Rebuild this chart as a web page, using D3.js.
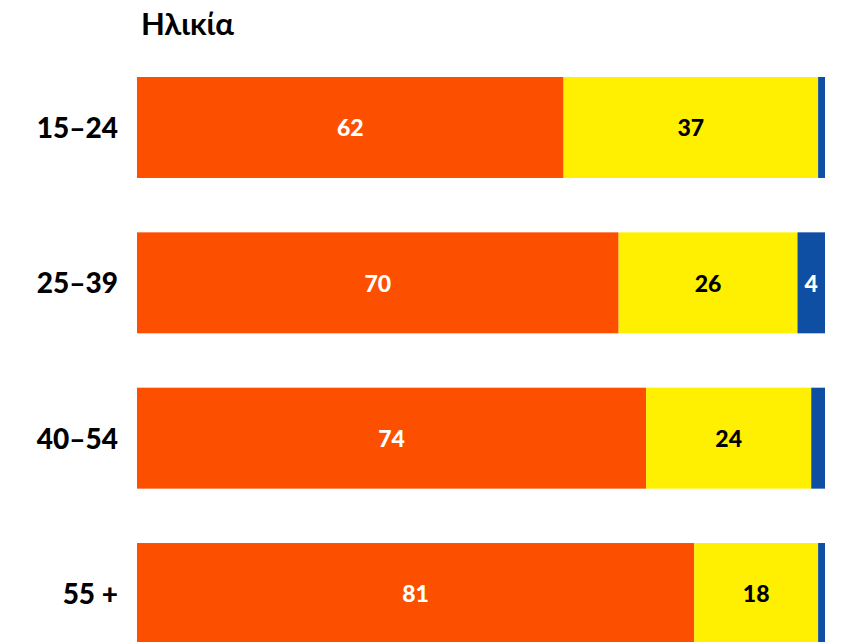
<!DOCTYPE html>
<html><head><meta charset="utf-8">
<script src="https://cdn.jsdelivr.net/npm/d3@7"></script>
<style>body{margin:0;background:#fff}svg{display:block}</style>
</head><body>
<script>
const title = "Ηλικία";
const categories = ["15–24", "25–39", "40–54", "55 +"];
const seriesNames = ["a", "b", "c"];
const valuesA = [62, 70, 74, 81];
const valuesB = [37, 26, 24, 18];
const valuesC = [1, 4, 2, 1];
const colors = ["#FC5000", "#FEF000", "#0E4FA3"];
const textColors = ["#ffffff", "#000000", "#ffffff"];
const showLabel = [[true,true,false],[true,true,true],[true,true,false],[true,true,false]];

const W = 841, H = 642;
const svg = d3.select("body").append("svg").attr("width", W).attr("height", H);
const font = "Lato, 'DejaVu Sans', sans-serif";

const rows = categories.map((c, i) => ({cat: c, a: valuesA[i], b: valuesB[i], c: valuesC[i]}));
const stack = d3.stack().keys(seriesNames)(rows);

const x = d3.scaleLinear().domain([0, 100]).range([137, 825]);
const y = d3.scaleBand().domain(categories).range([77, 644]).paddingInner(0.35).paddingOuter(0);

svg.append("text").attr("x", 141).attr("y", 35).text(title)
  .attr("font-family", font).attr("font-weight", 700).attr("font-size", 31).attr("fill", "#000");

const yAxis = d3.axisLeft(y).tickSize(0).tickPadding(0);
const ga = svg.append("g").attr("transform", "translate(118,0)").call(yAxis);
ga.select(".domain").remove();
ga.selectAll("text").attr("font-family", font).attr("font-weight", 900).attr("font-size", 28).attr("fill", "#000").attr("dy", "0.38em");

stack.forEach((s, si) => {
  const g = svg.append("g");
  g.selectAll("rect").data(s).join("rect")
    .attr("x", d => x(d[0])).attr("width", d => x(d[1]) - x(d[0]))
    .attr("y", d => y(d.data.cat)).attr("height", y.bandwidth())
    .attr("fill", colors[si]);
  g.selectAll("text").data(s.filter((d, i) => showLabel[i][si])).join("text")
    .attr("x", d => (x(d[0]) + x(d[1])) / 2)
    .attr("y", d => y(d.data.cat) + y.bandwidth() / 2)
    .attr("dy", "0.38em").attr("text-anchor", "middle")
    .attr("font-family", font).attr("font-weight", 900).attr("font-size", 23)
    .attr("fill", textColors[si])
    .text(d => d[1] - d[0]);
});
</script>
</body></html>
